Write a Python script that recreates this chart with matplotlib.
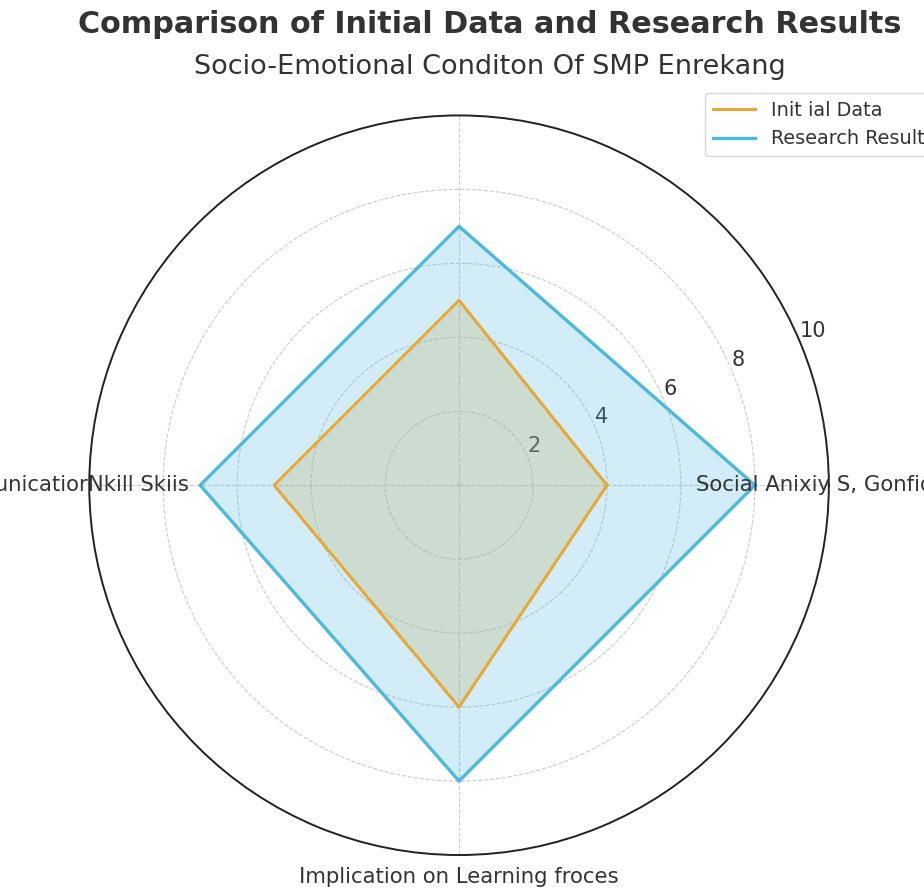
import numpy as np
from matplotlib import pyplot as plt

# categories in order: right, top, left, bottom
categories = ["Social Anixiy S, Gonfidence", "", "CommunicatiorNkill Skiis", "Implication on Learning froces"]
initial_data = [4, 5, 5, 6]
research_results = [8, 7, 7, 8]
r_ticks = [2, 4, 6, 8, 10]

orange = "#E8A838"
blue = "#4DB8E0"
txt = "#333333"

angles = np.linspace(0, 2 * np.pi, len(categories), endpoint=False)
ang_closed = np.append(angles, angles[0])
init_closed = np.append(initial_data, initial_data[0])
res_closed = np.append(research_results, research_results[0])

fig = plt.figure(figsize=(9.24, 8.9), dpi=100)
ax = fig.add_axes([0.0963, 0.0393, 0.801, 0.831], polar=True)

ax.fill(ang_closed, init_closed, color=orange, alpha=0.25, zorder=2)
ax.fill(ang_closed, res_closed, color=blue, alpha=0.25, zorder=3)
ax.plot(ang_closed, init_closed, color=orange, lw=2.2, label="Init ial Data", zorder=4)
ax.plot(ang_closed, res_closed, color=blue, lw=2.4, label="Research Results", zorder=4)

ax.set_ylim(0, 10)
ax.set_yticks(r_ticks)
ax.set_yticklabels([str(t) for t in r_ticks], fontsize=15, color=txt)
ax.set_rlabel_position(23)
ax.set_xticks(angles)
ax.set_xticklabels([])
ax.grid(True, color="#cccccc", linestyle="--", linewidth=0.8)
ax.spines["polar"].set_color("#222222")
ax.spines["polar"].set_linewidth(1.4)

# category labels placed by hand around the web
ax.text(angles[0], 6.4, categories[0], ha="left", va="center", fontsize=15.3, color=txt, zorder=5)
ax.text(angles[2], 7.3, categories[2], ha="right", va="center", fontsize=15.3, color=txt, zorder=5)
ax.text(angles[3], 10.6, categories[3], ha="center", va="center", fontsize=15.3, color=txt, zorder=5)

fig.text(0.53, 0.972, "Comparison of Initial Data and Research Results", ha="center", va="center",
         fontsize=21.8, fontweight="bold", color=txt)
fig.text(0.53, 0.925, "Socio-Emotional Conditon Of SMP Enrekang", ha="center", va="center",
         fontsize=19.5, color=txt)

fig.legend(loc="upper left", bbox_to_anchor=(0.763, 0.8955), borderaxespad=0, fontsize=13.9,
           frameon=True, handlelength=2.2, labelcolor=txt)

fig.savefig("out.png", dpi=100)
